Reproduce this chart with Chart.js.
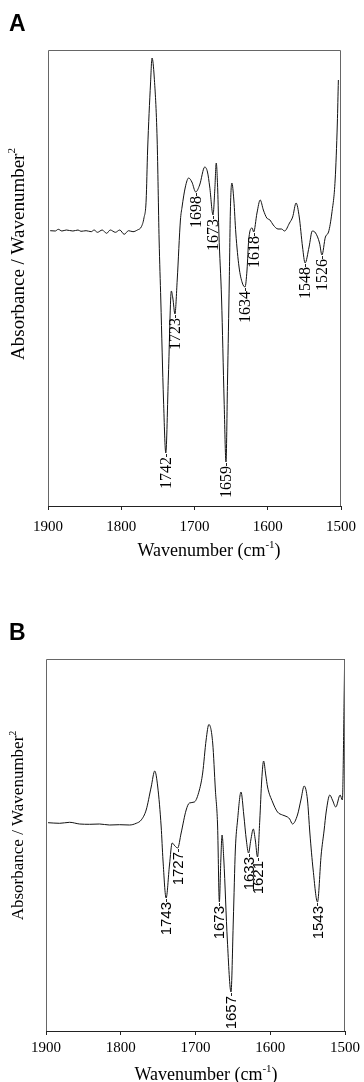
<!DOCTYPE html>
<html>
<head>
<meta charset="utf-8">
<script src="https://cdn.jsdelivr.net/npm/chart.js"></script>
<style>
  html, body { margin: 0; padding: 0; background: #fff; }
  canvas { display: block; }
</style>
</head>
<body>
<canvas id="chartA" width="364" height="570"></canvas>
<canvas id="chartB" width="364" height="512"></canvas>
<script>
// x axis ticks (cm-1), axis runs 1900 -> 1500
const xTicks = [1900, 1800, 1700, 1600, 1500];

// Panel A: second derivative spectrum, arbitrary units (baseline = 0)
const wavenumberA = [1897, 1890, 1886, 1881, 1875, 1866, 1859, 1855, 1848, 1841, 1837, 1832.5, 1826, 1820, 1815, 1808, 1802, 1796, 1790, 1784, 1778, 1772.5, 1769, 1766, 1764, 1760, 1758, 1755, 1751, 1748.3, 1746, 1742.3, 1739.2, 1735.6, 1731.6, 1729.6, 1726.7, 1723.6, 1719.2, 1717, 1712.5, 1708, 1703.6, 1698.3, 1693, 1686, 1682.3, 1679.2, 1674.7, 1672.3, 1670.3, 1668.3, 1666.7, 1663, 1659.6, 1657, 1654.9, 1652.5, 1651, 1649, 1646.3, 1643.6, 1639.2, 1634.7, 1631, 1628.3, 1626, 1621.3, 1619.2, 1614.7, 1610.3, 1606, 1601.3, 1597, 1592.5, 1586, 1581.3, 1577, 1570.3, 1566, 1561.3, 1557, 1552.5, 1549, 1543.6, 1539.2, 1534.7, 1529.3, 1526, 1521.3, 1517, 1512.5, 1508, 1505, 1503.6];
const signalA = [-0.7, -1, 0.7, -1, 0, -1, 0, -1.3, -0.7, -1.7, 0, -2.3, 0, -3.3, 0, -2.3, 0, -4.3, -0.7, -1.7, 0, 3.3, 12, 30, 80, 147, 172, 153, 90, -10, -70, -170, -223, -145, -61, -68, -84, -50, 10, 23, 43, 52, 48, 38, 45, 63, 58, 43, 15, 40, 67, 40, -3, -70, -170, -232, -150, -50, 20, 47, 30, -3, -37, -53, -57, -40, -10, 2, -2, 17, 30, 20, 12, 10, 5, 1, 1, -1, 7, 13, 27, 13, -17, -33, -17, -1, -3, -13, -25, -7, -2, 17, 50, 107, 150];
const peakTextA = ['1742', '1723', '1698', '1673', '1659', '1634', '1618', '1548', '1526'];
const peakWnA = [1739.2, 1726.7, 1698.3, 1674.7, 1657, 1631, 1619.2, 1549, 1526];
const peakValA = [-223, -84, 38, 15, -232, -57, -2, -33, -25];

// Panel B
const wavenumberB = [1897.3, 1881.7, 1868.4, 1855, 1841.7, 1828.3, 1815, 1801.6, 1788.3, 1779.3, 1772.6, 1766, 1759.3, 1754.5, 1750.5, 1745.9, 1743.5, 1739.3, 1734.8, 1731.2, 1727.5, 1723.8, 1719.2, 1712.5, 1708.1, 1701.5, 1694.8, 1690.4, 1685.8, 1682.1, 1677, 1673.4, 1670.4, 1668.1, 1666.1, 1664.5, 1662.1, 1657.4, 1652.5, 1649.4, 1646.7, 1643.7, 1639.1, 1635.4, 1632, 1629, 1626, 1622.7, 1620, 1617, 1614, 1611.4, 1608.9, 1606, 1603.6, 1596.9, 1590.3, 1583.6, 1576.9, 1574, 1570.2, 1563.6, 1559, 1554.6, 1550.2, 1547, 1542.6, 1536.8, 1531.9, 1527.9, 1525.2, 1520.3, 1516.8, 1512.3, 1506.5, 1503.5, 1501.2, 1500.5];
const signalB = [0.3, -0.3, 0.7, -1, -1.3, -1, -2, -1.7, -2, -0.3, 3, 13, 36, 52, 36, -4, -37, -75, -42, -20, -23, -25, -10, 13, 20, 21, 33, 50, 83, 98.5, 80, 33, -4, -79, -37, -12, -37, -117, -169, -97, -27, 3, 31, 8, -17, -30, -17, -6, -17, -34, 3, 43, 62, 48, 36, 21, 11, 8, 6, 4, -1, 8, 23, 37, 23, -10, -47, -79, -32, -7, 11, 28, 23, 16, 28, 23, 123, 164];
const peakTextB = ['1743', '1727', '1673', '1657', '1633', '1621', '1543'];
const peakWnB = [1739.3, 1723.8, 1668.1, 1652.5, 1629, 1617, 1536.8];
const peakValB = [-75, -25, -79, -169, -30, -34, -79];

const SERIF = '"Liberation Serif", "Times New Roman", serif';
const SANS = '"Liberation Sans", Arial, sans-serif';

// draws frame, panel letter, axis titles and peak labels
const decorations = {
    id: 'decorations',
    afterDraw: function (chart, args, o) {
        const ctx = chart.ctx;
        const a = chart.chartArea;
        const x = chart.scales.x;
        const y = chart.scales.y;
        ctx.save();

        // frame (top, left, right)
        ctx.strokeStyle = '#666';
        ctx.lineWidth = 1;
        ctx.beginPath();
        ctx.moveTo(a.left + 0.5, a.bottom);
        ctx.lineTo(a.left + 0.5, a.top + 0.5);
        ctx.lineTo(a.right - 0.5, a.top + 0.5);
        ctx.lineTo(a.right - 0.5, a.bottom);
        ctx.stroke();

        // panel letter
        ctx.fillStyle = '#000';
        ctx.font = 'bold 23px ' + SANS;
        ctx.textAlign = 'left';
        ctx.textBaseline = 'middle';
        ctx.fillText(o.letter, 9, o.letterY);

        // peak labels, rotated, hanging below each minimum
        ctx.strokeStyle = '#222';
        ctx.font = o.peakFont;
        o.peakText.forEach(function (t, i) {
            const px = x.getPixelForValue(o.peakWn[i]);
            const py = y.getPixelForValue(o.peakVal[i]);
            ctx.beginPath();
            ctx.moveTo(Math.round(px) + 0.5, py + 1);
            ctx.lineTo(Math.round(px) + 0.5, py + 4);
            ctx.stroke();
            ctx.save();
            ctx.translate(px + 1, py + 4);
            ctx.rotate(-Math.PI / 2);
            ctx.textAlign = 'right';
            ctx.textBaseline = 'middle';
            ctx.fillText(t, 0, 0);
            ctx.restore();
        });

        // y title
        ctx.save();
        ctx.translate(19, o.yTitleY);
        ctx.rotate(-Math.PI / 2);
        drawWithSup(ctx, 'Absorbance / Wavenumber', '2', '', o.yTitleSize);
        ctx.restore();

        // x title
        ctx.save();
        ctx.translate(o.xTitleX, o.xTitleY);
        drawWithSup(ctx, 'Wavenumber (cm', '-1', ')', 18);
        ctx.restore();

        ctx.restore();
    }
};

function drawWithSup(ctx, main, sup, tail, size) {
    const mainFont = size + 'px ' + SERIF;
    const supFont = Math.round(size * 0.6) + 'px ' + SERIF;
    ctx.font = mainFont;
    const w1 = ctx.measureText(main).width;
    const w3 = ctx.measureText(tail).width;
    ctx.font = supFont;
    const w2 = ctx.measureText(sup).width;
    let cx = -(w1 + w2 + w3) / 2;
    ctx.fillStyle = '#000';
    ctx.textAlign = 'left';
    ctx.textBaseline = 'middle';
    ctx.font = mainFont;
    ctx.fillText(main, cx, 0);
    cx += w1;
    ctx.font = supFont;
    ctx.fillText(sup, cx, -size * 0.35);
    cx += w2;
    ctx.font = mainFont;
    ctx.fillText(tail, cx, 0);
}

function makeChart(canvasId, wn, vals, cfg) {
    const canvas = document.getElementById(canvasId);
    const ctx = canvas.getContext('2d');
    return new Chart(ctx, {
        type: 'line',
        data: {
            datasets: [{
                data: wn.map(function (w, i) { return { x: w, y: vals[i] }; }),
                borderColor: '#111',
                borderWidth: 1,
                pointRadius: 0,
                fill: false,
                cubicInterpolationMode: 'monotone'
            }]
        },
        options: {
            responsive: false,
            animation: false,
            events: [],
            layout: {
                padding: { left: cfg.left, right: canvas.width - cfg.right, top: cfg.top, bottom: 0 }
            },
            plugins: {
                legend: { display: false },
                tooltip: { enabled: false },
                decorations: cfg.deco
            },
            scales: {
                x: {
                    type: 'linear',
                    reverse: true,
                    min: 1500,
                    max: 1900,
                    afterBuildTicks: function (scale) {
                        scale.ticks = xTicks.map(function (v) { return { value: v }; });
                    },
                    afterFit: function (scale) {
                        scale.height = canvas.height - cfg.bottom;
                    },
                    ticks: {
                        color: '#000',
                        padding: cfg.tickPad,
                        maxRotation: 0,
                        font: { family: SERIF, size: 15 },
                        callback: function (v) { return String(v); }
                    },
                    grid: {
                        drawOnChartArea: false,
                        drawTicks: true,
                        tickLength: 4,
                        color: '#222'
                    },
                    border: { display: true, color: '#222', width: 1 }
                },
                y: {
                    display: false,
                    min: cfg.yMin,
                    max: cfg.yMax
                }
            }
        },
        plugins: [decorations]
    });
}

makeChart('chartA', wavenumberA, signalA, {
    left: 48, right: 347, top: 50, bottom: 506,
    yMin: -276, yMax: 180, tickPad: 8,
    deco: {
        letter: 'A', letterY: 25,
        peakText: peakTextA, peakWn: peakWnA, peakVal: peakValA,
        peakFont: '16px ' + SERIF,
        yTitleY: 254, yTitleSize: 19,
        xTitleX: 209, xTitleY: 551
    }
});

makeChart('chartB', wavenumberB, signalB, {
    left: 46, right: 346, top: 89, bottom: 461,
    yMin: -208, yMax: 164, tickPad: 4,
    deco: {
        letter: 'B', letterY: 63.5,
        peakText: peakTextB, peakWn: peakWnB, peakVal: peakValB,
        peakFont: '15px ' + SANS,
        yTitleY: 255.5, yTitleSize: 17,
        xTitleX: 206, xTitleY: 505
    }
});
</script>
</body>
</html>
